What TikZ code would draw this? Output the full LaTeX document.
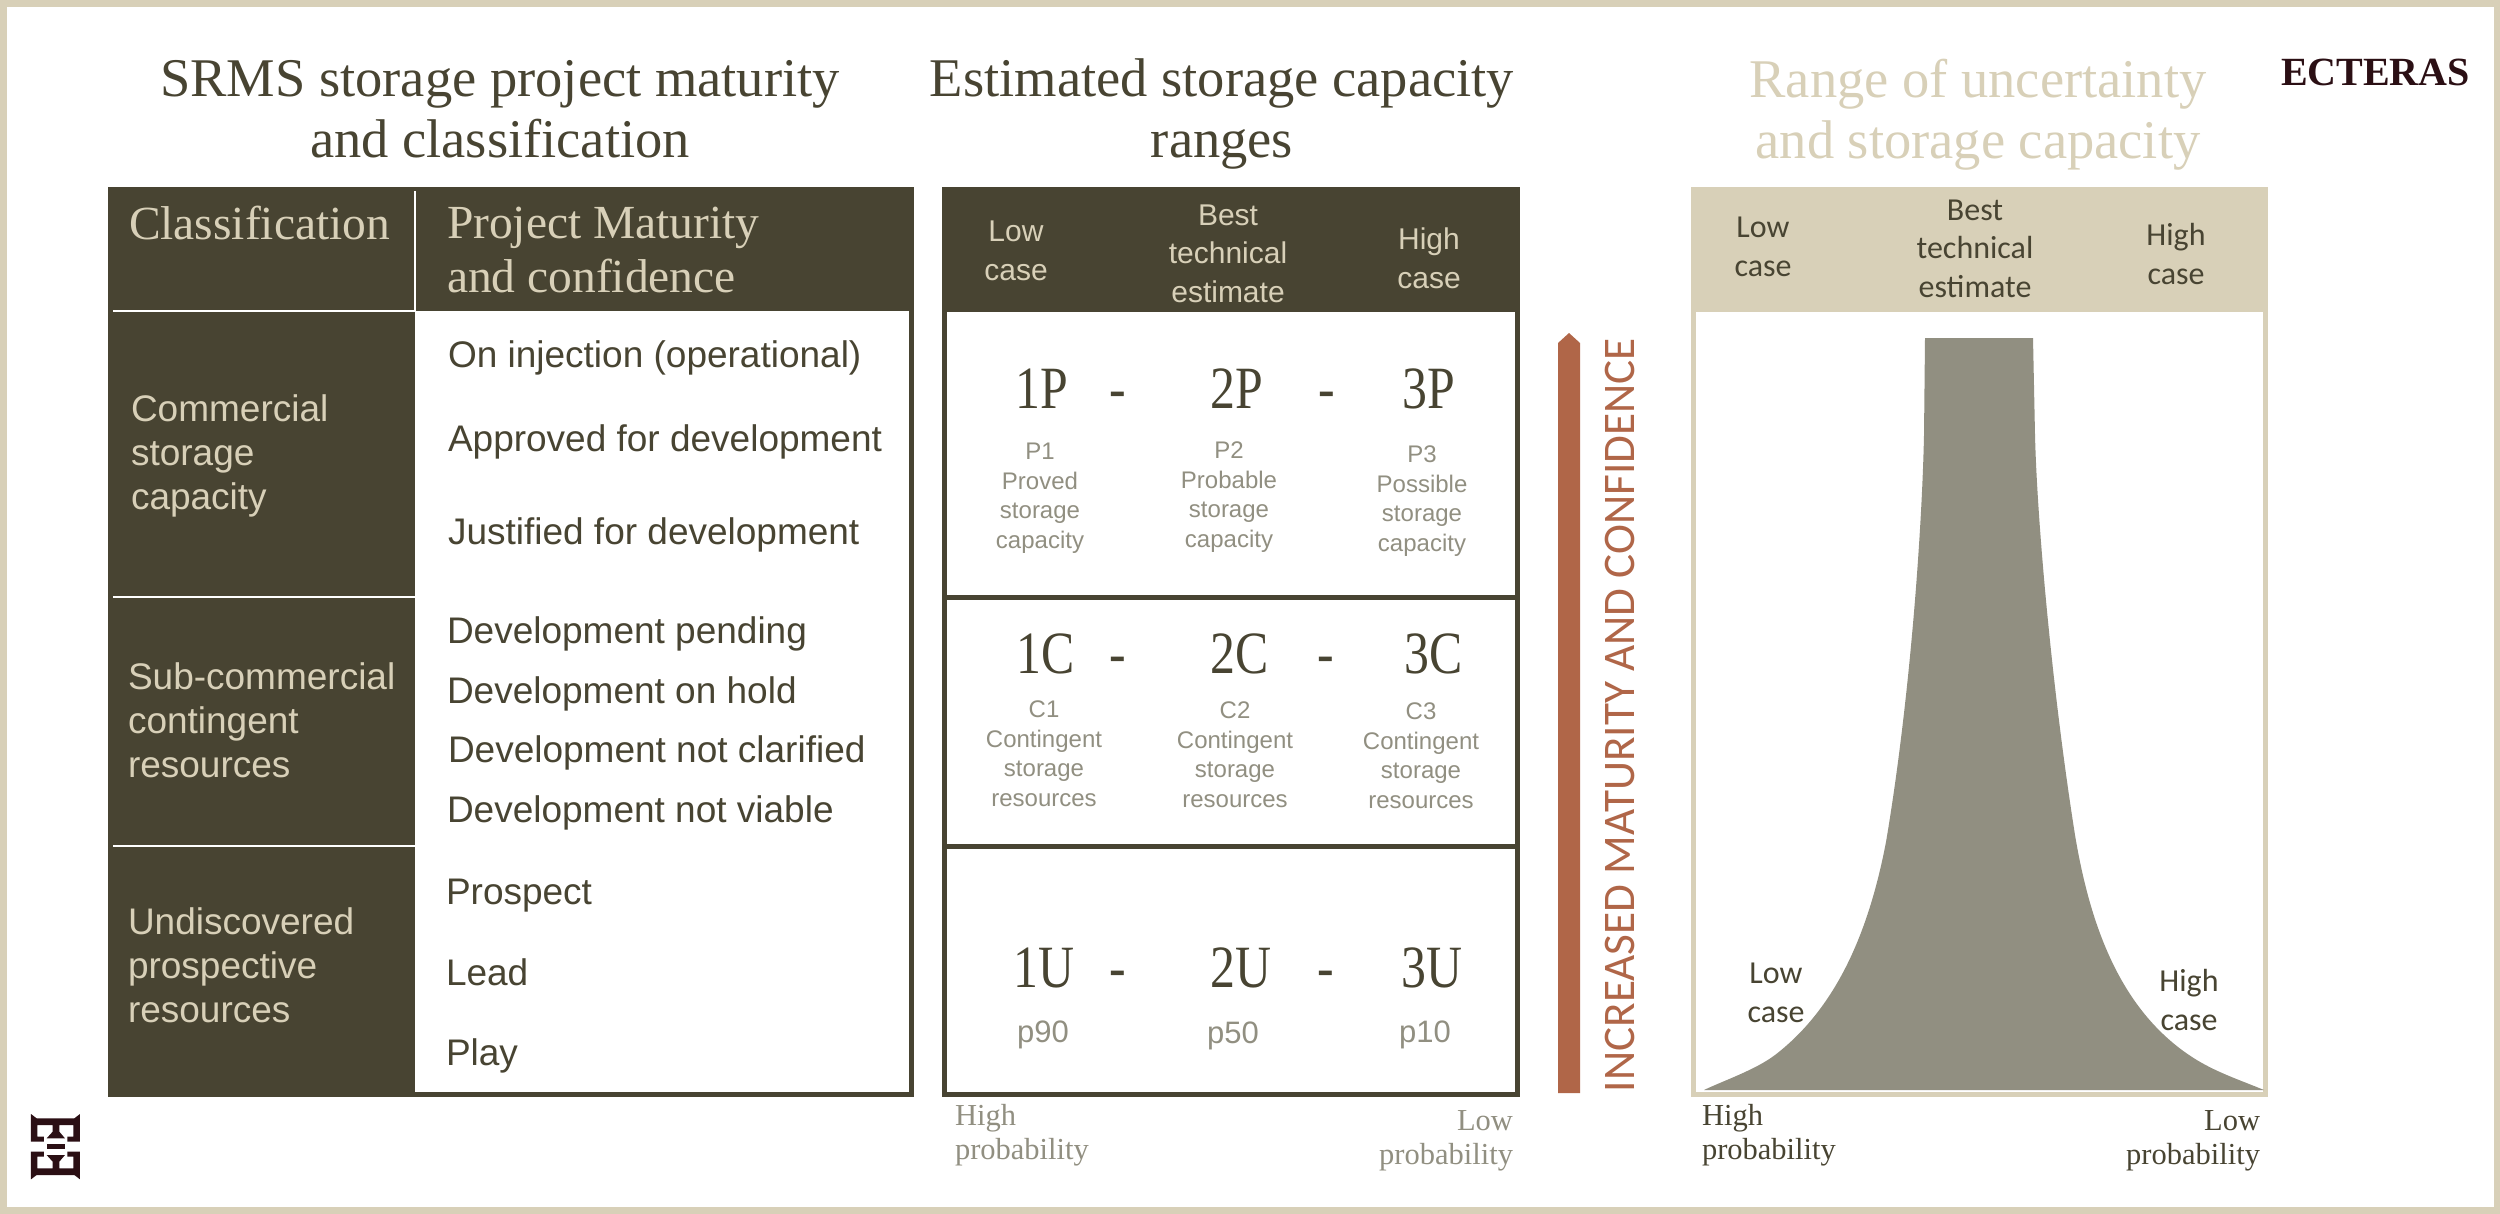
\documentclass[tikz,border=0pt]{standalone}
\usepackage{fontspec}
\setmainfont{Liberation Serif}
\newfontfamily\labelfont{Liberation Sans}
\newfontfamily\casefont{Carlito}
\newfontfamily\rangefont[FakeStretch=0.83]{Liberation Serif}
\definecolor{olivedark}{HTML}{484432}
\definecolor{sand}{HTML}{D8D0B8}
\definecolor{stone}{HTML}{918F81}
\definecolor{rust}{HTML}{B06648}
\definecolor{maroon}{HTML}{2B0F14}
\begin{document}
\begin{tikzpicture}[
  x=1pt, y=-1pt,
  every node/.style={inner sep=0pt, outer sep=0pt},
  title/.style={font=\fontsize{54.5}{61}\selectfont, text=olivedark, align=center, anchor=base},
  headtext/.style={font=\fontsize{47.5}{54}\selectfont, text=sand, align=left, anchor=base west},
  classtext/.style={font=\labelfont\fontsize{37}{44}\selectfont, text=sand, align=left, anchor=base west},
  itemtext/.style={font=\labelfont\fontsize{37}{40}\selectfont, text=olivedark, anchor=base west},
  casetext/.style={font=\labelfont\fontsize{30}{38.5}\selectfont, text=sand, align=center, anchor=base},
  rangetext/.style={font=\rangefont\fontsize{60}{60}\selectfont, text=olivedark, anchor=base},
  subtext/.style={font=\labelfont\fontsize{24}{29.5}\selectfont, text=stone, align=center, anchor=base},
  percentile/.style={font=\labelfont\fontsize{31}{31}\selectfont, text=stone, anchor=base},
  probleft/.style={font=\fontsize{30.5}{34}\selectfont, text=stone, align=left, anchor=base west},
  probright/.style={font=\fontsize{30.5}{34}\selectfont, text=stone, align=right, anchor=base east},
  plotcase/.style={font=\casefont\fontsize{32}{38.5}\selectfont, text=olivedark, align=center, anchor=base},
  panel/.style={line width=5pt, draw=olivedark}
]
\useasboundingbox (0,0) rectangle (2500,1213);
% frame
\fill[white] (0,0) rectangle (2500,1213);
\draw[sand, line width=7pt] (3,3) rectangle (2497,1210);

% left table
\fill[olivedark] (108,187) rectangle (415,1097);
\fill[olivedark] (415,187) rectangle (914,311);
\draw[olivedark, line width=5pt] (415,1094.5) -- (911.5,1094.5) -- (911.5,311);
\draw[white, line width=2.5pt] (113,311) -- (415,311);
\draw[white, line width=2pt] (415,191) -- (415,311);
\draw[white, line width=2pt] (113,597) -- (415,597);
\draw[white, line width=2pt] (113,846) -- (415,846);

% middle table
\fill[olivedark] (942,187) rectangle (1520,312);
\draw[panel] (944.5,309.5) rectangle (1517.5,1094);
\draw[panel] (944.5,597) -- (1517.5,597);
\draw[panel] (944.5,846) -- (1517.5,846);

% arrow
\fill[rust] (1558,1093) -- (1558,343) -- (1569,333) -- (1580,343) -- (1580,1093) -- cycle;

% right panel
\draw[sand, line width=5pt] (1693.5,312) -- (1693.5,1094) -- (2265.5,1094) -- (2265.5,312);
\fill[sand] (1691,187) rectangle (2268,312);
\fill[stone] (1925,338) -- (2033,338) -- (2035,435)
  .. controls (2037,520) and (2052,690) .. (2075,835)
  .. controls (2090,925) and (2120,1010) .. (2192,1057)
  .. controls (2215,1072) and (2240,1080) .. (2264,1090)
  -- (1704,1090)
  .. controls (1725,1080) and (1755,1070) .. (1775,1055)
  .. controls (1840,1005) and (1870,925) .. (1886,842)
  .. controls (1910,700) and (1922,530) .. (1924,435) -- cycle;

% titles
\node[title] (titlestage) at (500,157) {SRMS storage project maturity\\and classification};
\node[title] (titlerange) at (1222,157) {Estimated storage capacity\\ranges};
\node[title, text=sand] (titleuncert) at (1978,158) {Range of uncertainty\\and storage capacity};
\node[anchor=base west, font=\bfseries\fontsize{40}{40}\selectfont, text=maroon] (brand) at (2281,85) {ECTERAS};

% left table text
\node[headtext] (headclass) at (129,239.5) {Classification};
\node[headtext] (headmature) at (447,292.5) {Project Maturity\\and confidence};
\node[classtext] (classcom) at (131,509.5) {Commercial\\storage\\capacity};
\node[classtext] (classsub) at (128,777.5) {Sub-commercial\\contingent\\resources};
\node[classtext] (classund) at (128,1022.5) {Undiscovered\\prospective\\resources};
\node[itemtext] (inject) at (448,367.5) {On injection (operational)};
\node[itemtext] (approved) at (448,451.5) {Approved for development};
\node[itemtext] (justified) at (448,544.5) {Justified for development};
\node[itemtext] (pending) at (447,643.5) {Development pending};
\node[itemtext] (hold) at (447,703.5) {Development on hold};
\node[itemtext] (clarified) at (448,762.5) {Development not clarified};
\node[itemtext] (viable) at (447,822.5) {Development not viable};
\node[itemtext] (prospect) at (446,904.5) {Prospect};
\node[itemtext] (lead) at (446,985.5) {Lead};
\node[itemtext] (play) at (446,1065.5) {Play};

% middle table text
\node[casetext] (lowmid) at (1016,280) {Low\\case};
\node[casetext] (bestmid) at (1228,302) {Best\\technical\\estimate};
\node[casetext] (highmid) at (1429,288) {High\\case};

\node[rangetext] (onep) at (1042,408) {1P};
\node[rangetext] (dashpa) at (1118,408) {-};
\node[rangetext] (twop) at (1237,408) {2P};
\node[rangetext] (dashpb) at (1327,408) {-};
\node[rangetext] (threep) at (1429,408) {3P};
\node[subtext] (subpa) at (1040,548) {P1\\Proved\\storage\\capacity};
\node[subtext] (subpb) at (1229,547) {P2\\Probable\\storage\\capacity};
\node[subtext] (subpc) at (1422,551) {P3\\Possible\\storage\\capacity};

\node[rangetext] (onec) at (1046,673) {1C};
\node[rangetext] (dashca) at (1118,673) {-};
\node[rangetext] (twoc) at (1240,673) {2C};
\node[rangetext] (dashcb) at (1326,673) {-};
\node[rangetext] (threec) at (1434,673) {3C};
\node[subtext] (subca) at (1044,806) {C1\\Contingent\\storage\\resources};
\node[subtext] (subcb) at (1235,807) {C2\\Contingent\\storage\\resources};
\node[subtext] (subcc) at (1421,808) {C3\\Contingent\\storage\\resources};

\node[rangetext] (oneu) at (1044,987) {1U};
\node[rangetext] (dashua) at (1118,987) {-};
\node[rangetext] (twou) at (1241,987) {2U};
\node[rangetext] (dashub) at (1326,987) {-};
\node[rangetext] (threeu) at (1432,987) {3U};
\node[percentile] (pninety) at (1043,1042) {p90};
\node[percentile] (pfifty) at (1233,1043) {p50};
\node[percentile] (pten) at (1425,1042) {p10};

\node[probleft] (highmidprob) at (955,1159) {High\\probability};
\node[probright] (lowmidprob) at (1513,1164) {Low\\probability};

% arrow label
\node[rotate=90, anchor=base west, font=\casefont\fontsize{45.2}{45.2}\selectfont, text=rust] (maturity) at (1634,1092) {INCREASED MATURITY AND CONFIDENCE};

% right panel text
\node[plotcase] (lowright) at (1763,276) {Low\\case};
\node[plotcase] (bestright) at (1975,297) {Best\\technical\\estimate};
\node[plotcase] (highright) at (2176,284) {High\\case};
\node[plotcase] (lowcurve) at (1776,1022) {Low\\case};
\node[plotcase] (highcurve) at (2189,1030) {High\\case};
\node[probleft, text=olivedark] (highrightprob) at (1702,1159) {High\\probability};
\node[probright, text=olivedark] (lowrightprob) at (2260,1164) {Low\\probability};

% logo
\begin{scope}[shift={(20,1100)}, x=0.3333pt, y=-0.3333pt]
\fill[maroon] (33,42) -- (50,55) -- (163,55) -- (180,42) -- (180,125) -- (142,125) -- (142,110) -- (160,110) -- (160,75) -- (118,75) -- (118,95) -- (135,115) -- (80,115) -- (98,95) -- (98,75) -- (52,75) -- (52,110) -- (72,110) -- (72,125) -- (33,125) -- cycle;
\fill[maroon] (80,133) rectangle (135,148);
\fill[maroon] (33,238) -- (50,225) -- (163,225) -- (180,238) -- (180,155) -- (142,155) -- (142,170) -- (160,170) -- (160,205) -- (118,205) -- (118,185) -- (135,165) -- (80,165) -- (98,185) -- (98,205) -- (52,205) -- (52,170) -- (72,170) -- (72,155) -- (33,155) -- cycle;
\end{scope}
\end{tikzpicture}
\end{document}
